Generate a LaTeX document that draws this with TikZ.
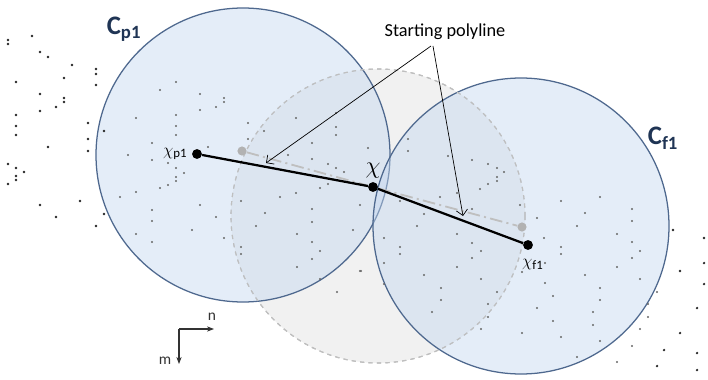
\documentclass[tikz,border=0pt]{standalone}
\usepackage{fontspec}
\setmainfont{Carlito}
\usetikzlibrary{positioning, arrows.meta}

\definecolor{cblue}{RGB}{196,216,240}
\definecolor{cedge}{RGB}{78,104,142}
\definecolor{clabel}{RGB}{31,52,84}
\definecolor{ptgray}{RGB}{150,150,150}

\begin{document}
\begin{tikzpicture}[
        x=0.025cm, y=-0.025cm,
        every node/.style={
            align=center,
            inner sep=1pt
        },
        window/.style={
            draw=cedge,
            line width=0.9pt,
            fill=cblue,
            fill opacity=0.45
        },
        search/.style={
            draw=black!25,
            dashed,
            line width=0.8pt,
            fill=black!12,
            fill opacity=0.45
        },
        vertex/.style={
            circle,
            fill=black,
            minimum size=7pt,
            inner sep=0pt
        },
        oldvertex/.style={
            circle,
            fill=black!30,
            minimum size=6.5pt,
            inner sep=0pt
        },
        polyline/.style={
            line width=1.6pt
        },
        startline/.style={
            black!25,
            line width=1.3pt,
            dash pattern=on 9pt off 3pt on 1.5pt off 3pt
        },
        pointer/.style={
            -{Straight Barb[length=4pt]},
            line width=0.5pt
        },
        axis/.style={
            -{Stealth[length=5pt]},
            black!80,
            line width=1.1pt
        },
        circlabel/.style={
            font=\fontsize{19}{20}\selectfont\bfseries,
            text=clabel
        },
        chilabel/.style={
            font=\fontsize{13}{15}\selectfont
        }
    ]
    \useasboundingbox (0,0) rectangle (708,380);

    % centres of the windows
    \coordinate (cp) at (243,155);
    \coordinate (cf) at (521,226);
    \coordinate (cs) at (378,216);

    % windows
    \fill[search] (cs) circle (147);
    \draw[window] (cp) circle (147);
    \draw[window] (cf) circle (148);
    \draw[search, fill=none] (cs) circle (147);

    % data points
    \foreach \x/\y in {8/40, 8/44, 32/36, 40/52, 48/57, 72/65, 96/69, 96/74, 96/85,
        64/78, 16/82, 40/94, 64/98, 64/102, 56/107, 40/111, 16/115, 16/126, 16/135,
        88/123, 104/131, 88/139, 48/147, 88/151, 8/164, 16/168, 24/172, 16/176,
        16/180, 8/184, 40/205, 80/201, 56/217, 104/214, 96/226}
        \fill[black!85] (\x,\y) circle (0.9pt);
    \foreach \x/\y in {176/82, 160/90, 200/94, 224/98, 224/102, 216/107, 200/110,
        136/118, 176/115, 176/126, 176/135, 248/123, 248/139, 208/147, 152/143,
        128/155, 152/160, 168/163, 176/168, 184/173, 176/177, 176/181, 160/188,
        168/185, 136/192, 120/197, 152/210, 152/221, 136/234, 152/242, 200/205,
        216/217, 192/230, 224/238,
        264/131, 296/118, 336/113, 336/127, 336/135, 312/143, 368/148, 288/155,
        312/159, 328/164, 336/168, 344/172, 328/184, 320/188, 296/193, 280/197,
        241/201, 265/213, 256/226, 312/209, 312/222, 360/205, 297/234, 353/230,
        241/247, 241/254, 312/242, 320/251, 312/259, 297/267, 360/271, 320/279,
        337/292, 400/201, 417/226, 384/238, 400/247, 400/254, 384/263, 384/284,
        361/271, 408/139, 408/151, 448/156, 472/160, 488/164, 497/168, 504/172,
        497/177, 497/181, 488/184, 480/189, 457/193, 440/197, 472/209, 424/214,
        457/234, 472/243, 481/251, 472/258, 424/275, 457/267, 441/288, 441/300,
        432/312, 481/279, 497/292, 488/304, 488/317, 481/329,
        520/205, 537/218, 561/201, 600/197, 585/213, 577/226, 544/238, 561/247,
        561/254, 632/209, 632/221, 617/234, 632/242, 640/251, 632/258, 617/267,
        545/263, 522/272, 545/283, 585/275, 640/279, 600/288, 553/296, 600/300,
        657/292, 648/304, 537/308, 593/312, 648/317, 553/321, 593/325, 640/329,
        522/333, 561/337, 600/341, 632/346, 577/357, 617/362}
        \fill[black!60] (\x,\y) circle (0.75pt);
    \foreach \x/\y in {673/230, 704/238, 704/263, 680/271, 704/284, 697/308,
        680/333, 664/350, 697/353, 657/366, 697/370}
        \fill[black!85] (\x,\y) circle (0.9pt);

    % starting polyline
    \node[oldvertex] (sp) at (242,151) {};
    \node[oldvertex] (sf) at (522,227) {};

    % polyline through chi
    \node[vertex] (xp) at (197,154) {};
    \node[vertex] (x) at (373,187) {};
    \node[vertex] (xf) at (528,245) {};

    \draw[startline] (sp) -- (x) -- (sf);
    \draw[polyline] (xp) -- (x) -- (xf);

    % labels
    \node[circlabel] (Cp) at (124,29) {C\textsubscript{p1}};
    \node[circlabel] (Cf) at (663,138) {C\textsubscript{f1}};
    \node[chilabel, left=2pt of xp] (lxp) {$\chi$\textsubscript{p1}};
    \node[chilabel, font=\fontsize{16}{17}\selectfont, above=1pt of x] (lx) {$\chi$};
    \node[chilabel, below right=6pt and -8pt of xf] (lxf) {$\chi$\textsubscript{f1}};

    % annotation
    \node[font=\fontsize{13}{15}\selectfont] (start) at (445,32) {Starting polyline};
    \coordinate (tip1) at (266,163);
    \coordinate (tip2) at (463,216);
    \draw[pointer] (431,46) -- (tip1);
    \draw[pointer] (433,46) -- (tip2);

    % axes
    \coordinate (o) at (179,329);
    \coordinate (ne) at (214,329);
    \coordinate (me) at (179,364);
    \draw[axis] (o) -- (ne);
    \draw[axis] (o) -- (me);
    \node[font=\fontsize{11}{12}\selectfont, text=black!80] (n) at (212,317) {n};
    \node[font=\fontsize{11}{12}\selectfont, text=black!80] (m) at (165,361) {m};

    \end{tikzpicture}
\end{document}
